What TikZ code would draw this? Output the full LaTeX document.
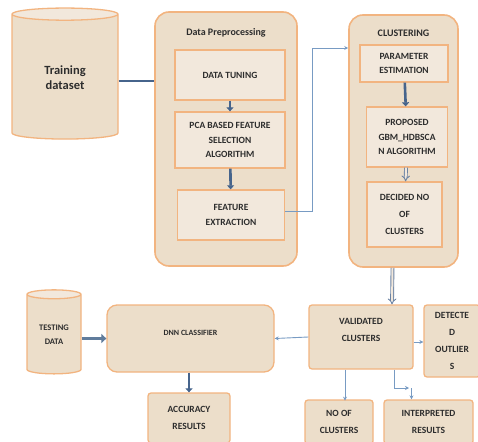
\documentclass[tikz,border=0pt]{standalone}
\usepackage{fontspec}
\setmainfont{Carlito}
\usetikzlibrary{shapes.geometric,arrows.meta,calc}
\definecolor{tanfill}{RGB}{236,222,202}
\definecolor{tanlight}{RGB}{242,232,220}
\definecolor{edgeor}{RGB}{242,180,128}
\definecolor{arrdark}{RGB}{70,100,140}
\definecolor{arrlight}{RGB}{120,155,195}
\definecolor{txtc}{RGB}{45,45,45}
\tikzset{
  outerbox/.style={draw=edgeor, line width=1.6pt, fill=tanfill, rounded corners=14pt},
  innerbox/.style={draw=edgeor, line width=1.3pt, fill=tanlight, align=center, text=txtc,
                   font=\bfseries\fontsize{9.5}{14.5}\selectfont, inner sep=1pt},
  plainbox/.style={draw=edgeor, line width=1.3pt, fill=tanfill, rounded corners=3pt, align=center,
                   text=txtc, font=\bfseries\fontsize{9.5}{17}\selectfont, inner sep=1pt},
  dbase/.style={cylinder, shape border rotate=90, draw=edgeor, line width=1.3pt,
                cylinder uses custom fill, cylinder body fill=tanfill, cylinder end fill=tanlight,
                align=center, text=txtc, inner sep=1pt},
  thickarr/.style={draw=arrdark, line width=2.6pt, -{Triangle[length=4pt,width=7pt]}},
  widearr/.style={draw=arrlight!80!black, line width=3.5pt, -{Triangle[length=5pt,width=9pt]}},
  thinarr/.style={draw=arrlight, line width=0.9pt, -{Stealth[length=4pt,width=4pt]}},
  dblarr/.style={draw=arrdark!80, double=tanlight, double distance=2pt, line width=0.9pt, -{Implies}},
  lbl/.style={text=txtc, font=\bfseries\fontsize{10}{12}\selectfont}
}
\begin{document}
\begin{tikzpicture}[x=1pt,y=-1pt]
\useasboundingbox (0,0) rectangle (478,441);
% training dataset
\node[dbase, aspect=0.28, minimum width=106pt, minimum height=131pt,
      font=\bfseries\fontsize{12.5}{14.5}\selectfont] (train) at (65,77.5) {Training\\dataset};
% data preprocessing
\node[outerbox, minimum width=142pt, minimum height=254pt] (prep) at (226,139) {};
\node[lbl] (preplbl) at (226,33) {Data Preprocessing};
\node[innerbox, minimum width=110pt, minimum height=50pt] (tuning) at (230,75) {DATA TUNING};
\node[innerbox, minimum width=110pt, minimum height=56pt] (pca) at (230,140) {PCA BASED FEATURE\\SELECTION\\ALGORITHM};
\node[innerbox, minimum width=107pt, minimum height=50pt] (feat) at (231,215) {FEATURE\\EXTRACTION};
% clustering
\node[outerbox, minimum width=109pt, minimum height=252pt] (clus) at (403.5,141) {};
\node[lbl] (cluslbl) at (403.5,33) {CLUSTERING};
\node[innerbox, minimum width=88pt, minimum height=37pt] (param) at (404,63.5) {PARAMETER\\ESTIMATION};
\node[innerbox, minimum width=81pt, minimum height=60pt] (prop) at (407,137) {PROPOSED\\GBM\_HDBSCA\\N ALGORITHM};
\node[innerbox, minimum width=75pt, minimum height=65pt, font=\bfseries\fontsize{9.5}{17}\selectfont] (decided) at (404.5,214.5) {DECIDED NO\\OF\\CLUSTERS};
% bottom row
\node[dbase, aspect=0.28, minimum width=54pt, minimum height=84pt,
      font=\bfseries\fontsize{8.5}{14}\selectfont] (test) at (54,335) {TESTING\\DATA};
\node[plainbox, rounded corners=10pt, minimum width=167pt, minimum height=67pt,
      font=\bfseries\fontsize{8}{10}\selectfont] (dnn) at (190.5,338.5) {DNN CLASSIFIER\\[2pt]\mbox{}};
\node[plainbox, minimum width=82pt, minimum height=50pt] (acc) at (189,418) {ACCURACY\\RESULTS};
\node[plainbox, minimum width=104pt, minimum height=64pt] (valid) at (361,337) {VALIDATED\\CLUSTERS\\[-3pt]\mbox{}};
\node[plainbox, minimum width=56pt, minimum height=72pt] (outl) at (452,341) {DETECTE\\D\\OUTLIER\\S};
\node[plainbox, minimum width=68pt, minimum height=44pt] (noc) at (339,422) {NO OF\\CLUSTERS};
\node[plainbox, minimum width=89pt, minimum height=44pt] (interp) at (428.5,422) {INTERPRETED\\RESULTS};
% connectors
\draw[draw=arrdark, line width=2.6pt] (train.east |- 0,81) -- (prep.west |- 0,81);
\draw[thickarr] (tuning) -- (pca);
\draw[thickarr] (pca) -- (feat);
\coordinate (fe1) at (312,211);
\coordinate (fe2) at (312,48);
\draw[thinarr] (feat.east |- fe1) -- (fe1) -- (fe2) -- (clus.west |- fe2);
\draw[thickarr] (param) -- (prop);
\draw[dblarr] (prop) -- (decided);
\draw[dblarr] ([xshift=-11pt]clus.south) -- ([xshift=31pt]valid.north);
\draw[widearr] (test.east |- dnn.west) -- (dnn.west);
\draw[thickarr] (dnn.south -| acc.north) -- (acc.north);
\draw[thinarr] (valid.west) -- (dnn.east);
\draw[thinarr] (valid.east |- 0,342) -- (outl.west |- 0,342);
\draw[thinarr] (valid.south -| noc.north) ++(6pt,0) -- ++(0,31);
\coordinate (ie1) at (394,388);
\coordinate (ie2) at (409,388);
\draw[thinarr] (valid.south -| ie1) -- (ie1) -- (ie2);
\draw[thinarr] ([xshift=-17pt]interp.north |- ie2) -- ([xshift=-17pt]interp.north);
\end{tikzpicture}
\end{document}
